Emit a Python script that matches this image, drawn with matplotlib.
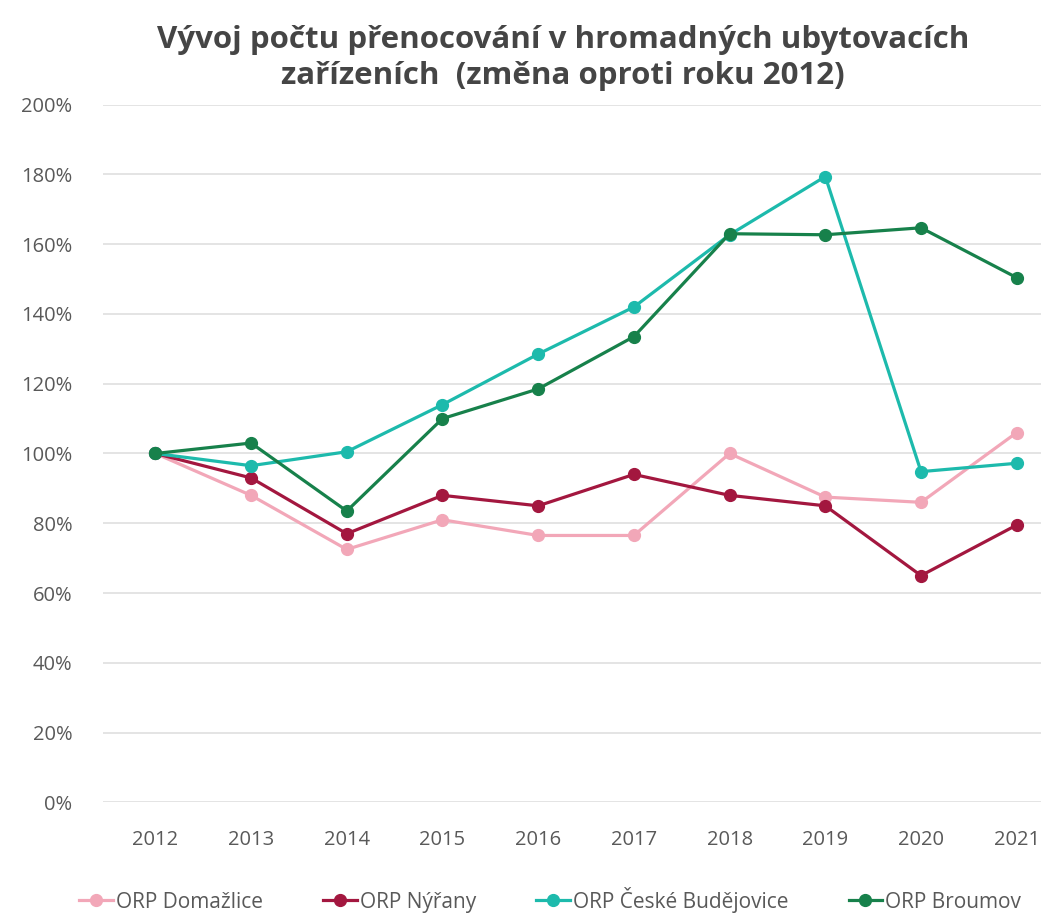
import matplotlib.pyplot as plt
from matplotlib.ticker import PercentFormatter

plt.rcParams['font.family'] = ['Open Sans', 'DejaVu Sans']

years = ['2012', '2013', '2014', '2015', '2016', '2017', '2018', '2019', '2020', '2021']
domazlice = [100, 88, 72.5, 81, 76.5, 76.5, 100, 87.5, 86, 106]
nyrany = [100, 93, 77, 88, 85, 94, 88, 85, 65, 79.5]
ceske_budejovice = [100, 96.5, 100.5, 114, 128.5, 142, 162.7, 179.4, 94.8, 97.2]
broumov = [100, 103, 83.5, 110, 118.5, 133.5, 163, 162.7, 164.7, 150.4]

series = [
    ('ORP Domažlice', domazlice, '#F2A7B8'),
    ('ORP Nýřany', nyrany, '#A3173F'),
    ('ORP České Budějovice', ceske_budejovice, '#1DBAAC'),
    ('ORP Broumov', broumov, '#17814B'),
]

fig = plt.figure(figsize=(10.48, 9.18), dpi=100)
ax = fig.add_axes([0.098, 0.126, 0.895, 0.76])

x = range(len(years))
for label, vals, color in series:
    ax.plot(x, vals, color=color, lw=2.3, marker='o', ms=8.5, label=label)

ax.set_ylim(0, 200)
ax.set_yticks(range(0, 201, 20))
ax.yaxis.set_major_formatter(PercentFormatter(decimals=0))
ax.set_xlim(-0.55, 9.25)
ax.set_xticks(list(x))
ax.set_xticklabels(years)
ax.grid(axis='y', color='#E2E2E2', lw=1.3)
ax.set_axisbelow(True)
for s in ax.spines.values():
    s.set_visible(False)
ax.tick_params(length=0, colors='#595959', labelsize=14.5)
ax.tick_params(axis='x', pad=20)
ax.tick_params(axis='y', pad=22)

fig.text(0.537, 0.937, 'Vývoj počtu přenocování v hromadných ubytovacích\nzařízeních  (změna oproti roku 2012)',
         ha='center', va='center', fontsize=22.5, fontweight='bold', color='#454545', linespacing=1.25)

fig.legend(loc='center', bbox_to_anchor=(0.525, 0.02), ncol=4, frameon=False,
           fontsize=15, handlelength=1.6, handletextpad=0.15, columnspacing=2.9,
           labelcolor='#595959')

fig.savefig('out.png', dpi=100)
